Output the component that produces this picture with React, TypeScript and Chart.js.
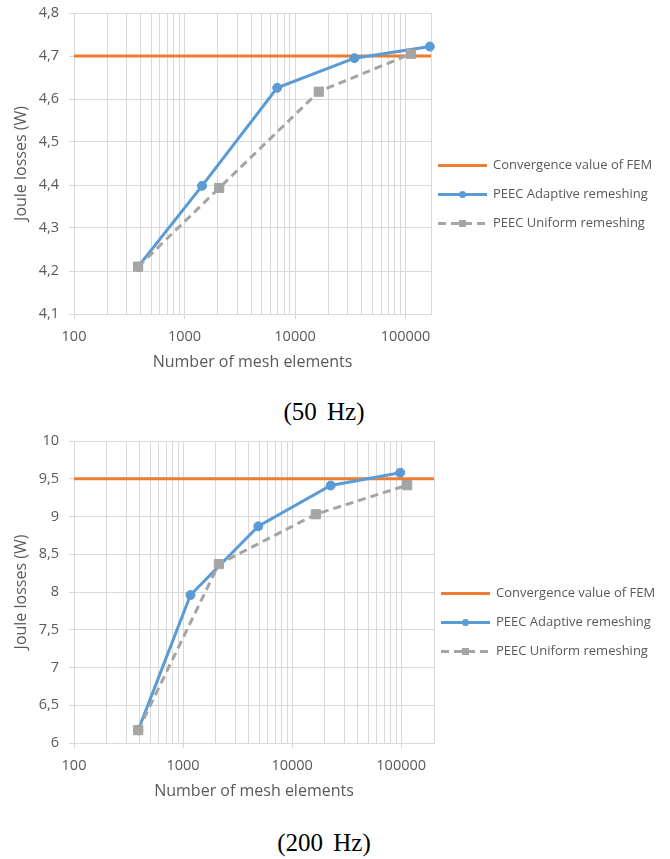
import React, { useEffect, useRef } from 'react';
import { Chart, registerables } from 'chart.js';

Chart.register(...registerables);

// ---------- Data ----------
const seriesLabels = ['Convergence value of FEM', 'PEEC Adaptive remeshing', 'PEEC Uniform remeshing'];
const xMajorLabels = [100, 1000, 10000, 100000];

// 50 Hz
const femValue50 = 4.7;
const xRange50 = [100, 170000];
const yRange50 = [4.1, 4.8];
const yStep50 = 0.1;
const adaptiveX50 = [380, 1440, 6900, 34500, 166000];
const adaptiveY50 = [4.21, 4.398, 4.626, 4.695, 4.722];
const uniformX50 = [380, 2060, 16400, 112000];
const uniformY50 = [4.21, 4.393, 4.617, 4.705];

// 200 Hz
const femValue200 = 9.5;
const xRange200 = [100, 200000];
const yRange200 = [6, 10];
const yStep200 = 0.5;
const adaptiveX200 = [388, 1170, 4900, 22600, 98000];
const adaptiveY200 = [6.17, 7.96, 8.87, 9.41, 9.58];
const uniformX200 = [388, 2130, 16500, 113500];
const uniformY200 = [6.17, 8.37, 9.03, 9.415];

// ---------- Styling ----------
const ORANGE = '#ED7D31';
const BLUE = '#5B9BD5';
const GRAY = '#A5A5A5';
const GRID = '#D9D9D9';
const TEXT = '#595959';
const FONT = '"Open Sans", "DejaVu Sans", sans-serif';

const zip = (xs: number[], ys: number[]) => xs.map((x, i) => ({ x, y: ys[i] }));

const sideLegend = {
  id: 'sideLegend',
  afterDraw(chart: any) {
    const { ctx, chartArea } = chart;
    const x0 = chartArea.right + 7;
    const len = 49;
    ctx.save();
    chart.data.datasets.forEach((d: any, i: number) => {
      const y = Math.round(chartArea.top + 152 + i * 29) + 0.5;
      ctx.strokeStyle = d.borderColor;
      ctx.lineWidth = d.borderWidth;
      ctx.setLineDash(d.borderDash || []);
      ctx.beginPath();
      ctx.moveTo(x0, y);
      ctx.lineTo(x0 + len, y);
      ctx.stroke();
      ctx.setLineDash([]);
      const cx = x0 + len / 2;
      ctx.fillStyle = d.pointBackgroundColor || d.borderColor;
      if (d.pointStyle === 'circle' && d.pointRadius > 0) {
        ctx.beginPath();
        ctx.arc(cx, y, 3.5, 0, Math.PI * 2);
        ctx.fill();
      } else if (d.pointStyle === 'rect' && d.pointRadius > 0) {
        ctx.fillRect(cx - 3.5, y - 3.5, 7, 7);
      }
      ctx.fillStyle = TEXT;
      ctx.font = `13px ${FONT}`;
      ctx.textBaseline = 'middle';
      ctx.textAlign = 'left';
      ctx.fillText(d.label, x0 + len + 6, y);
    });
    ctx.restore();
  },
};

type Cfg = {
  fem: number;
  xRange: number[];
  yRange: number[];
  yStep: number;
  ax: number[];
  ay: number[];
  ux: number[];
  uy: number[];
  padRight: number;
  padTop: number;
};

function buildConfig(c: Cfg): any {
  return {
    type: 'line',
    data: {
      datasets: [
        {
          label: seriesLabels[0],
          data: zip(c.xRange, [c.fem, c.fem]),
          borderColor: ORANGE,
          backgroundColor: ORANGE,
          borderWidth: 3,
          pointRadius: 0,
          pointStyle: false as any,
          order: 2,
        },
        {
          label: seriesLabels[1],
          data: zip(c.ax, c.ay),
          borderColor: BLUE,
          backgroundColor: BLUE,
          pointBackgroundColor: BLUE,
          pointBorderColor: BLUE,
          borderWidth: 3,
          pointStyle: 'circle',
          pointRadius: 4.5,
          pointBorderWidth: 1,
          order: 1,
          clip: false,
        },
        {
          label: seriesLabels[2],
          data: zip(c.ux, c.uy),
          borderColor: GRAY,
          backgroundColor: GRAY,
          pointBackgroundColor: GRAY,
          pointBorderColor: GRAY,
          borderWidth: 3,
          borderDash: [8, 5],
          pointStyle: 'rect',
          pointRadius: 6.5,
          pointBorderWidth: 1,
          order: 0,
          clip: false,
        },
      ],
    },
    options: {
      responsive: false,
      animation: false,
      events: [],
      layout: { padding: { top: c.padTop, right: c.padRight, bottom: 0, left: 0 } },
      plugins: { legend: { display: false }, tooltip: { enabled: false } },
      elements: { line: { tension: 0 } },
      scales: {
        x: {
          type: 'logarithmic',
          min: c.xRange[0],
          max: c.xRange[1],
          afterBuildTicks: (scale: any) => {
            const ticks: any[] = [];
            const [lo, hi] = c.xRange;
            for (let p = lo; p < hi; p *= 10) {
              for (let m = 1; m <= 9; m++) {
                const v = m * p;
                if (v >= lo && v <= hi) ticks.push({ value: v, major: m === 1 });
              }
            }
            if (ticks[ticks.length - 1].value !== hi) ticks.push({ value: hi });
            scale.ticks = ticks;
          },
          afterFit: (scale: any) => {
            scale.height = 62;
            scale.paddingLeft = 0;
            scale.paddingRight = 0;
          },
          grid: {
            color: GRID,
            lineWidth: 1,
            tickLength: 5,
            tickColor: (ctx: any) =>
              ctx.tick && xMajorLabels.includes(ctx.tick.value) ? GRID : 'rgba(0,0,0,0)',
          },
          border: { color: GRID },
          ticks: {
            autoSkip: false,
            maxRotation: 0,
            minRotation: 0,
            padding: 9,
            color: TEXT,
            font: { family: FONT, size: 14.5 },
            callback: (v: any) => (xMajorLabels.includes(Number(v)) ? String(v) : ''),
          },
          title: {
            display: true,
            text: 'Number of mesh elements',
            color: TEXT,
            font: { family: FONT, size: 16 },
            padding: { top: 0, bottom: 4 },
          },
        },
        y: {
          type: 'linear',
          min: c.yRange[0],
          max: c.yRange[1],
          afterFit: (scale: any) => {
            scale.width = 74;
            scale.paddingTop = 0;
            scale.paddingBottom = 0;
          },
          grid: { color: GRID, lineWidth: 1, tickLength: 5 },
          border: { color: GRID },
          ticks: {
            stepSize: c.yStep,
            padding: 10,
            color: TEXT,
            font: { family: FONT, size: 14.5 },
            callback: (v: any) => String(Math.round(Number(v) * 10) / 10).replace('.', ','),
          },
          title: {
            display: true,
            text: 'Joule losses (W)',
            color: TEXT,
            font: { family: FONT, size: 16 },
            padding: { top: 12, bottom: 0 },
          },
        },
      },
    },
    plugins: [sideLegend],
  };
}

function LogChart({ cfg, top, height }: { cfg: Cfg; top: number; height: number }) {
  const ref = useRef<HTMLCanvasElement>(null);
  useEffect(() => {
    if (!ref.current) return;
    const chart = new Chart(ref.current, buildConfig(cfg));
    return () => chart.destroy();
  }, []);
  return (
    <canvas
      ref={ref}
      width={670}
      height={height}
      style={{ position: 'absolute', left: 0, top, display: 'block', width: 670, height }}
    />
  );
}

const captionStyle = (top: number): React.CSSProperties => ({
  position: 'absolute',
  left: 0,
  width: 648,
  top,
  textAlign: 'center',
  fontFamily: '"Liberation Serif", "Times New Roman", serif',
  fontSize: 25,
  lineHeight: '25px',
  wordSpacing: 4,
  color: '#000',
});

export default function App() {
  const cfg50: Cfg = {
    fem: femValue50,
    xRange: xRange50,
    yRange: yRange50,
    yStep: yStep50,
    ax: adaptiveX50,
    ay: adaptiveY50,
    ux: uniformX50,
    uy: uniformY50,
    padRight: 239,
    padTop: 13,
  };
  const cfg200: Cfg = {
    fem: femValue200,
    xRange: xRange200,
    yRange: yRange200,
    yStep: yStep200,
    ax: adaptiveX200,
    ay: adaptiveY200,
    ux: uniformX200,
    uy: uniformY200,
    padRight: 236,
    padTop: 13,
  };
  return (
    <div style={{ position: 'absolute', left: 0, top: 0, width: 670, height: 859, background: '#fff' }}>
      <LogChart cfg={cfg50} top={0} height={376} />
      <div style={captionStyle(399)}>(50 Hz)</div>
      <LogChart cfg={cfg200} top={428} height={377} />
      <div style={captionStyle(830)}>(200 Hz)</div>
    </div>
  );
}
